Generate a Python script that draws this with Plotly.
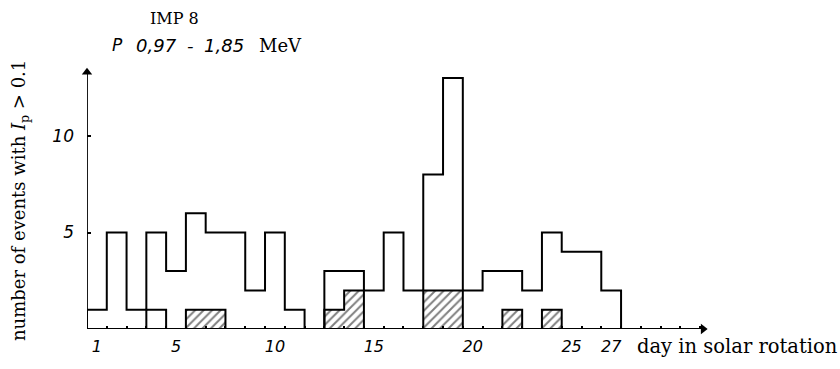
import plotly.graph_objects as go

# Days in the solar rotation (bins 1..27)
days = list(range(1, 28))

# Total number of events per day
total_counts = [1, 5, 1, 5, 3, 6, 5, 5, 2, 5, 1, 0, 3, 3, 2, 5, 2, 8, 13, 2, 3, 3, 2, 5, 4, 4, 2]

# Subset of events drawn hatched
hatched_counts = [0, 0, 0, 0, 0, 1, 1, 0, 0, 0, 0, 0, 1, 2, 0, 0, 0, 2, 2, 0, 0, 1, 0, 1, 0, 0, 0]

# Subset of events drawn as an open box
open_counts = [0, 0, 0, 1, 0, 0, 0, 0, 0, 0, 0, 0, 0, 0, 0, 0, 0, 0, 0, 0, 0, 0, 0, 0, 0, 0, 0]

x_tick_vals = [1, 5, 10, 15, 20, 25, 27]
x_tick_text = ["1", "5", "10", "15", "20", "25", "27"]
y_tick_vals = [5, 10]
y_tick_text = ["5", "10"]

# Figure geometry
FIG_W, FIG_H = 840, 369
M_L, M_R, M_T, M_B = 87, 129, 62, 40
PLOT_W = FIG_W - M_L - M_R
PLOT_H = FIG_H - M_T - M_B
PX_PER_DAY = 19.78
PX_PER_EVENT = 19.3
X0 = 0.5
X_RANGE = [X0, X0 + PLOT_W / PX_PER_DAY]
Y_RANGE = [0, PLOT_H / PX_PER_EVENT]
X_ARROW_END = 31.85
Y_ARROW_END = 13.5


def px(x):
    return (x - M_L) / PLOT_W


def py(y):
    return (FIG_H - M_B - y) / PLOT_H


def step_xy(counts):
    xs = [X0] + [d - 0.5 for d in days] + [days[-1] + 0.5]
    ys = [0] + list(counts) + [0]
    return xs, ys


SERIF = "DejaVu Serif"
HAND = "DejaVu Sans"

fig = go.Figure()

# hatched fill
fig.add_trace(go.Bar(
    x=days, y=hatched_counts, width=1,
    marker=dict(color="white",
                line=dict(width=0),
                pattern=dict(shape="/", fgcolor="black", bgcolor="white",
                             size=6, solidity=0.33)),
    hoverinfo="skip", showlegend=False,
))

# outline of the subsets
sub_counts = [h + o for h, o in zip(hatched_counts, open_counts)]
sx, sy = step_xy(sub_counts)
fig.add_trace(go.Scatter(
    x=sx, y=sy, mode="lines", line=dict(color="black", width=2, shape="hv"),
    cliponaxis=False, hoverinfo="skip", showlegend=False,
))

# outline of the total histogram
tx, ty = step_xy(total_counts)
fig.add_trace(go.Scatter(
    x=tx, y=ty, mode="lines", line=dict(color="black", width=2, shape="hv"),
    cliponaxis=False, hoverinfo="skip", showlegend=False,
))

# axis lines with arrow heads
axis_line = dict(color="black", width=1.8)
shapes = [
    dict(type="line", xref="x", yref="y", x0=X0, y0=0, x1=X_ARROW_END - 0.2, y1=0, line=axis_line),
    dict(type="line", xref="x", yref="y", x0=X0, y0=0, x1=X0, y1=Y_ARROW_END - 0.2, line=axis_line),
]
fig.add_trace(go.Scatter(
    x=[X_ARROW_END - 0.2], y=[0], mode="markers", cliponaxis=False,
    marker=dict(symbol="triangle-right", size=9, color="black", line=dict(width=0)),
    hoverinfo="skip", showlegend=False,
))
fig.add_trace(go.Scatter(
    x=[X0], y=[Y_ARROW_END - 0.2], mode="markers", cliponaxis=False,
    marker=dict(symbol="triangle-up", size=9, color="black", line=dict(width=0)),
    hoverinfo="skip", showlegend=False,
))


def label(x, y, text, family, size, italic=False, xanchor="center", angle=0):
    font = dict(family=family, size=size, color="black")
    if italic:
        font["style"] = "italic"
    return dict(x=px(x), y=py(y), xref="paper", yref="paper", showarrow=False,
                xanchor=xanchor, yanchor="middle", textangle=angle, text=text, font=font)


annotations = [
    label(174, 18, "IMP 8", SERIF, 16),
    label(117, 45, "P", HAND, 17, italic=True),
    label(156, 45, "0,97", HAND, 18, italic=True),
    label(190, 45, "-", HAND, 18, italic=True),
    label(224, 45, "1,85", HAND, 18, italic=True),
    label(280, 45, "MeV", SERIF, 18),
    label(737, 346, "day in solar rotation", SERIF, 19.5),
    label(20, 201, "number of events with <i>I</i><sub>p</sub> > 0.1", SERIF, 18, angle=-90),
]

fig.update_layout(
    width=FIG_W, height=FIG_H,
    margin=dict(l=M_L, r=M_R, t=M_T, b=M_B, pad=0),
    paper_bgcolor="white", plot_bgcolor="white",
    bargap=0, barmode="overlay",
    annotations=annotations,
    shapes=shapes,
    showlegend=False,
)

fig.update_xaxes(
    range=X_RANGE, showgrid=False, zeroline=False, showline=False,
    tickmode="array", tickvals=x_tick_vals, ticktext=x_tick_text, ticks="",
    ticklabelstandoff=6,
    tickfont=dict(family=HAND, size=16, color="black", style="italic"),
    minor=dict(tickmode="array", tickvals=[d + 0.5 for d in range(1, 32)],
               ticks="inside", ticklen=3, tickwidth=1.5, tickcolor="black", showgrid=False),
)
fig.update_yaxes(
    range=Y_RANGE, showgrid=False, zeroline=False, showline=False,
    tickmode="array", tickvals=y_tick_vals, ticktext=y_tick_text,
    ticks="inside", ticklen=4, tickwidth=1.5, tickcolor="black",
    ticklabelstandoff=12,
    tickfont=dict(family=HAND, size=17, color="black", style="italic"),
)

fig.write_html("out.html")
